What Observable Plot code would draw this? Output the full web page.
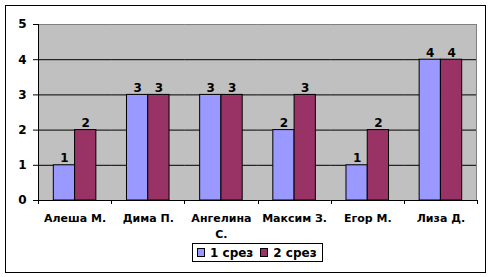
<!DOCTYPE html>
<html>
<head>
<meta charset="utf-8">
<script src="https://cdn.jsdelivr.net/npm/d3@7"></script>
<script src="https://cdn.jsdelivr.net/npm/@observablehq/plot@0.6"></script>
<style>
  html, body { margin: 0; padding: 0; background: #fff; }
  #wrap { position: relative; width: 492px; height: 277px; overflow: hidden; font-family: "DejaVu Sans", sans-serif; }
  #wrap svg { position: absolute; left: 0; top: 0; }
  #border { position: absolute; left: 5px; top: 5px; width: 481px; height: 268px; box-sizing: border-box; border: 1px solid #000; pointer-events: none; }
  #legend { position: absolute; left: 192px; top: 243px; width: 131px; height: 19px; box-sizing: border-box;
            border: 1px solid #000; background: #fff; display: flex; align-items: center; padding-left: 4px;
            font-size: 12px; font-weight: bold; color: #000; white-space: nowrap; }
  .item { display: flex; align-items: center; margin-right: 7px; flex-shrink: 0; white-space: nowrap; }
  .sw { width: 6px; height: 7px; border: 1px solid #000; margin-right: 5px; flex-shrink: 0; }
</style>
</head>
<body>
<div id="wrap"><div id="border"></div></div>
<script>
const students = ["Алеша М.", "Дима П.", "Ангелина С.", "Максим З.", "Егор М.", "Лиза Д."];
const series = ["1 срез", "2 срез"];
const srez1 = [1, 3, 3, 2, 1, 4];
const srez2 = [2, 3, 3, 3, 2, 4];
const yTicks = [0, 1, 2, 3, 4, 5];
const colors = ["#9999FF", "#993366"];

const data = [];
students.forEach((s, i) => {
  data.push({student: s, series: series[0], value: srez1[i]});
  data.push({student: s, series: series[1], value: srez2[i]});
});

const W = 492, H = 277, mL = 38, mR = 15, mT = 24, mB = 77;

const plot = Plot.plot({
  width: W, height: H,
  marginLeft: mL, marginRight: mR, marginTop: mT, marginBottom: mB,
  style: {fontFamily: "DejaVu Sans", fontSize: "12px", color: "black", background: "transparent", overflow: "visible"},
  fx: {domain: students, padding: 0, round: false, label: null},
  x: {domain: series, paddingInner: 0, paddingOuter: 0.72, round: false, axis: null},
  y: {domain: [0, 5], label: null},
  color: {domain: series, range: colors},
  marks: [
    Plot.ruleY(yTicks.slice(0, -1), {stroke: "black"}),
    Plot.ruleY(yTicks.slice(-1), {stroke: "#808080"}),
    Plot.barY(data, {fx: "student", x: "series", y: "value", fill: "series", stroke: "black", strokeWidth: 1, insetLeft: 0, insetRight: 0}),
    Plot.text(data, {fx: "student", x: "series", y: "value", text: d => String(d.value), lineAnchor: "bottom", dy: -3, fontWeight: "bold", fontSize: 12, fill: "black"}),
    Plot.axisY({ticks: yTicks, tickSize: 5, tickPadding: 7, fontWeight: "bold", fontSize: 12, label: null, tickFormat: d => String(d)}),
    Plot.axisFx({anchor: "bottom", tickSize: 0, tickPadding: 10, fontSize: 11, fontWeight: "bold", lineHeight: 16 / 11, label: null,
      tickFormat: d => d === "Ангелина С." ? "Ангелина\nС." : d})
  ]
});

const svg = d3.select(plot);
const pw = W - mL - mR, ph = H - mT - mB;
// plot area background
svg.insert("rect", ":first-child").attr("x", mL).attr("y", mT).attr("width", pw).attr("height", ph).attr("fill", "#C0C0C0");
// right border (grey)
svg.append("line").attr("x1", W - mR - 0.5).attr("x2", W - mR - 0.5).attr("y1", mT).attr("y2", H - mB).attr("stroke", "#808080");
// left axis line
svg.append("line").attr("x1", mL + 0.5).attr("x2", mL + 0.5).attr("y1", mT).attr("y2", H - mB + 0.5).attr("stroke", "black");
// category boundary ticks
for (let i = 0; i <= students.length; i++) {
  const x = Math.round(mL + i * pw / students.length) + 0.5;
  svg.append("line").attr("x1", x).attr("x2", x).attr("y1", H - mB).attr("y2", H - mB + 4).attr("stroke", "black");
}

const wrap = document.getElementById("wrap");
wrap.insertBefore(plot, wrap.firstChild);

const legend = document.createElement("div");
legend.id = "legend";
series.forEach((s, i) => {
  const item = document.createElement("div");
  item.className = "item";
  const sw = document.createElement("div");
  sw.className = "sw";
  sw.style.background = colors[i];
  const t = document.createElement("span");
  t.textContent = s;
  item.appendChild(sw);
  item.appendChild(t);
  legend.appendChild(item);
});
wrap.appendChild(legend);
</script>
</body>
</html>
